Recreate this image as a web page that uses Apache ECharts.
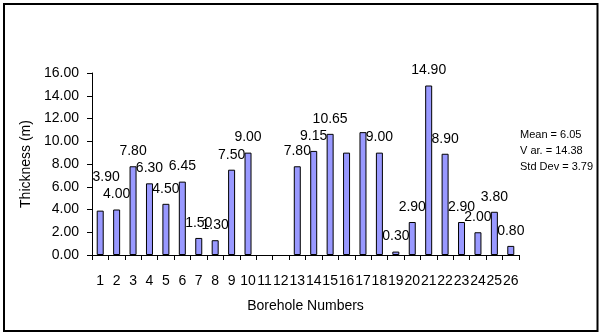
<!DOCTYPE html>
<html>
<head>
<meta charset="utf-8">
<style>
  html, body { margin: 0; padding: 0; background: #fff; }
  #chart { width: 602px; height: 336px; }
</style>
<script src="https://cdn.jsdelivr.net/npm/echarts@6/dist/echarts.min.js"></script>
</head>
<body>
<div id="chart"></div>
<script>
// borehole numbers on the x axis
const boreholes = ['1', '2', '3', '4', '5', '6', '7', '8', '9', '10', '11', '12', '13',
  '14', '15', '16', '17', '18', '19', '20', '21', '22', '23', '24', '25', '26']
// thickness in metres, 11 and 12 have no bar
const thickness = [3.9, 4.0, 7.8, 6.3, 4.5, 6.45, 1.5, 1.3, 7.5, 9.0, null, null, 7.8,
  9.15, 10.65, 9.0, 10.8, 9.0, 0.3, 2.9, 14.9, 8.9, 2.9, 2.0, 3.8, 0.8]
// the value labels that are shown (16 and 17 carry none in the original)
const valueLabels = ['3.90', '4.00', '7.80', '6.30', '4.50', '6.45', '1.50', '1.30', '7.50', '9.00', '', '', '7.80',
  '9.15', '10.65', '', '', '9.00', '0.30', '2.90', '14.90', '8.90', '2.90', '2.00', '3.80', '0.80']
const yMin = 0
const yMax = 16
const yStep = 2
const stats = ['Mean = 6.05', 'V ar. = 14.38', 'Std Dev = 3.79']

const font = "'Liberation Sans', Arial, sans-serif"

// label of the first bar was dragged up and right in the source chart
const movedLabel = { index: 0, offset: [6, -18] }

const chart = echarts.init(document.getElementById('chart'), null, { renderer: 'canvas' })

const barData = thickness.map((v, i) => ({
  value: v,
  label: {
    formatter: valueLabels[i],
    offset: i === movedLabel.index ? movedLabel.offset : [0, 0]
  }
}))

const option = {
  animation: false,
  backgroundColor: '#fff',
  textStyle: { fontFamily: font },
  grid: { left: 92, right: 83, top: 73, bottom: 81, containLabel: false },
  xAxis: {
    type: 'category',
    data: boreholes,
    name: 'Borehole Numbers',
    nameLocation: 'middle',
    nameGap: 44,
    nameTextStyle: { fontSize: 14, color: '#000', fontFamily: font },
    axisLine: { lineStyle: { color: '#000', width: 1 } },
    axisTick: { show: true, length: 5, lineStyle: { color: '#000' } },
    axisLabel: { interval: 0, margin: 19, fontSize: 14, color: '#000', fontFamily: font }
  },
  yAxis: {
    type: 'value',
    min: yMin,
    max: yMax,
    interval: yStep,
    name: 'Thickness (m)',
    nameLocation: 'middle',
    nameGap: 57,
    nameTextStyle: { fontSize: 14, color: '#000', fontFamily: font },
    axisLine: { show: true, lineStyle: { color: '#000', width: 1 } },
    axisTick: { show: true, length: 5, lineStyle: { color: '#000' } },
    splitLine: { show: false },
    axisLabel: {
      margin: 13,
      fontSize: 14,
      color: '#000',
      fontFamily: font,
      formatter: v => v.toFixed(2)
    }
  },
  series: [{
    type: 'bar',
    data: barData,
    barWidth: 7,
    itemStyle: { color: '#9999ff', borderColor: '#000', borderWidth: 1 },
    label: {
      show: true,
      position: 'top',
      distance: 8,
      fontSize: 14,
      color: '#000',
      fontFamily: font
    }
  }],
  graphic: [
    {
      type: 'rect',
      shape: { x: 4, y: 4, width: 593.5, height: 327 },
      style: { fill: 'none', stroke: '#000', lineWidth: 2 },
      silent: true
    },
    ...stats.map((t, i) => ({
      type: 'text',
      left: 520,
      top: 129 + i * 16,
      style: { text: t, fontSize: 11, fill: '#000', fontFamily: font }
    }))
  ]
}

chart.setOption(option)
</script>
</body>
</html>
